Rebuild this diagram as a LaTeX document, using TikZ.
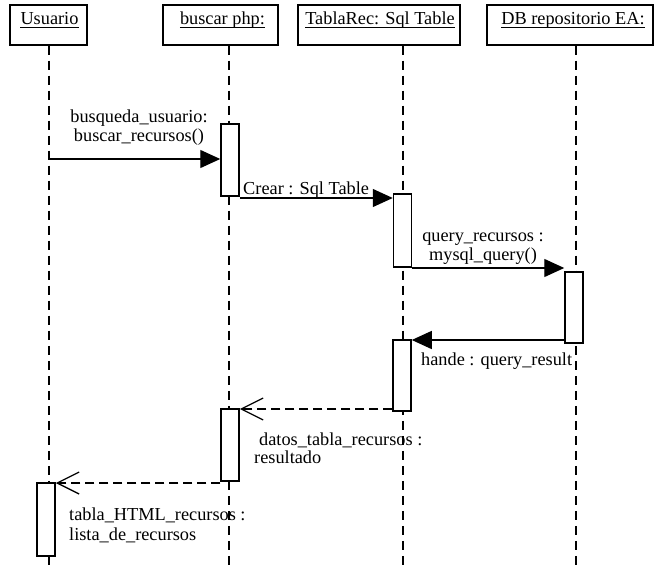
\documentclass[tikz,border=0pt]{standalone}
\usepackage{fontspec}
\setmainfont{Liberation Serif}
\usetikzlibrary{arrows.meta}
\begin{document}
\begin{tikzpicture}[x=1pt,y=-1pt,
  font=\fontsize{18.3}{20}\selectfont,
  objbox/.style={draw,line width=1.5pt,minimum height=40pt,inner sep=0pt},
  txt/.style={inner sep=0pt},
  life/.style={line width=1.4pt,dash pattern=on 9pt off 6pt},
  act/.style={draw,fill=white,line width=1.5pt,minimum width=18pt,inner sep=0pt},
  call/.style={line width=1.3pt,-{Triangle[length=20pt,width=18pt]}},
  ret/.style={line width=1.3pt,dash pattern=on 9pt off 5pt,
    -{Straight Barb[length=22pt,width=22pt,line width=1.3pt]}},
  ul/.style={line width=0.8pt}]
\useasboundingbox (0,0) rectangle (665,567);

% object boxes
\node[objbox,minimum width=77pt]  (uBox) at (48.5,25)  {};
\node[objbox,minimum width=115pt] (bBox) at (220.5,25) {};
\node[objbox,minimum width=162pt] (tBox) at (379,25)   {};
\node[objbox,minimum width=166pt] (dBox) at (570,25)   {};

\node[txt,anchor=base] (uTxt) at (49.5,25) {Usuario};
\node[txt,anchor=base] (bTxt) at (222.5,25) {buscar php:};
\node[txt,anchor=base] (tTxt) at (380,25) {TablaRec: Sql Table};
\node[txt,anchor=base] (dTxt) at (573,25) {DB repositorio EA:};
\foreach \t in {uTxt,bTxt,tTxt,dTxt}
  \draw[ul] ([yshift=-2.5pt]\t.base west) -- ([yshift=-2.5pt]\t.base east);

% lifelines
\coordinate (uEnd) at (49,567);
\coordinate (bEnd) at (229,567);
\coordinate (tEnd) at (403,567);
\coordinate (dEnd) at (576,567);
\draw[life] (uEnd |- uBox.south) -- (uEnd);
\draw[life] (bEnd |- bBox.south) -- (bEnd);
\draw[life] (tEnd |- tBox.south) -- (tEnd);
\draw[life] (dEnd |- dBox.south) -- (dEnd);

% activation bars
\node[act,minimum height=72pt] (a1) at (230,160)   {};
\node[act,minimum height=73pt] (a2) at (402.5,230.5) {};
\node[act,minimum height=71pt] (a3) at (574,307.5) {};
\node[act,minimum height=71pt] (a4) at (402,375.5) {};
\node[act,minimum height=72pt] (a5) at (230,445)   {};
\node[act,minimum height=73pt] (a6) at (46,519.5)  {};

% messages
\coordinate (m1) at (49,159);
\coordinate (m2) at (0,198);
\coordinate (m3) at (0,268);
\coordinate (m4) at (0,340);
\coordinate (m5) at (0,409);
\coordinate (m6) at (0,483);
\draw[call] (m1) -- (a1.west |- m1);
\draw[call] (a1.east |- m2) -- (a2.west |- m2);
\draw[call] (a2.east |- m3) -- (a3.west |- m3);
\draw[call] (a3.west |- m4) -- (a4.east |- m4);
\draw[ret]  (a4.west |- m5) -- (a5.east |- m5);
\draw[ret]  (a5.west |- m6) -- (a6.east |- m6);

% message labels
\node[txt,anchor=base] (l1a) at (139,123) {busqueda\_usuario:};
\node[txt,anchor=base] (l1b) at (139,142) {buscar\_recursos()};
\node[txt,anchor=base west] (l2) at (243,195) {Crear : Sql Table};
\node[txt,anchor=base] (l3a) at (483,242) {query\_recursos :};
\node[txt,anchor=base] (l3b) at (483,261) {mysql\_query()};
\node[txt,anchor=base west] (l4) at (421,366) {hande : query\_result};
\node[txt,anchor=base west] (l5a) at (259,445) {datos\_tabla\_recursos :};
\node[txt,anchor=base west] (l5b) at (254,463) {resultado};
\node[txt,anchor=base west] (l6a) at (69,520) {tabla\_HTML\_recursos :};
\node[txt,anchor=base west] (l6b) at (69,540) {lista\_de\_recursos};
\end{tikzpicture}
\end{document}
